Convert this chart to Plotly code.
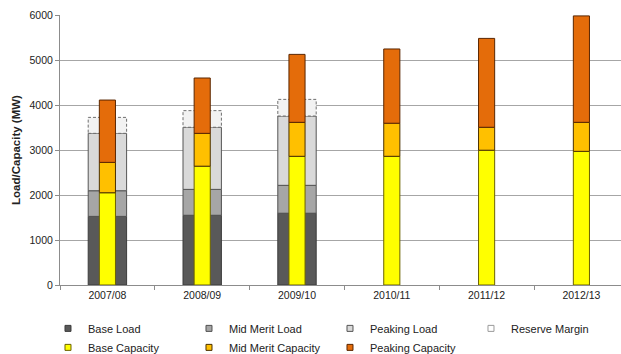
import plotly.graph_objects as go
import numpy as np

# Financial years on the category axis
years = ["2007/08", "2008/09", "2009/10", "2010/11", "2011/12", "2012/13"]

# Forecast load (MW) - only the first three years are shown
load_years = ["2007/08", "2008/09", "2009/10"]
base_load = [1525, 1550, 1595]
mid_merit_load = [570, 575, 620]
peaking_load = [1275, 1380, 1540]
reserve_margin = [355, 370, 370]

# Installed capacity (MW)
base_capacity = [2050, 2640, 2860, 2860, 2995, 2970]
mid_merit_capacity = [675, 730, 755, 735, 510, 645]
peaking_capacity = [1385, 1230, 1510, 1650, 1975, 2365]

FONT = "Liberation Sans, Arial, sans-serif"
LOAD_W = 0.405
CAP_W = 0.17

xi_load = np.array([years.index(y) for y in load_years], dtype=float)
xi_cap = np.arange(len(years), dtype=float)

fig = go.Figure()
legend_keys = []  # (name, fill, edge) in legend order


def stacked(fig, xs, segments, width, yaxis):
    base = np.zeros(len(xs))
    for name, vals, fill, edge in segments:
        vals = np.array(vals, dtype=float)
        fig.add_trace(go.Bar(
            x=xs, y=vals, base=base, width=width, name=name,
            marker=dict(color=fill, line=dict(color=edge, width=1)),
            yaxis=yaxis, hoverinfo="name+y", showlegend=False,
            legendgroup=name,
        ))
        base = base + vals
    return base


# Load stack (wide bars)
load_segments = [
    ("Base Load", base_load, "#595959", "#3c3c3c"),
    ("Mid Merit Load", mid_merit_load, "#A6A6A6", "#505050"),
    ("Peaking Load", peaking_load, "#D9D9D9", "#555555"),
]
load_top = stacked(fig, xi_load, load_segments, LOAD_W, "y")

# Reserve margin drawn as dashed outlined boxes on top of the load stack
rx, ry = [], []
for x, b, r in zip(xi_load, load_top, reserve_margin):
    x0, x1 = x - LOAD_W / 2, x + LOAD_W / 2
    rx += [x0, x1, x1, x0, x0, None]
    ry += [b, b, b + r, b + r, b, None]
fig.add_trace(go.Scatter(
    x=rx, y=ry, mode="lines", fill="toself", fillcolor="#F2F2F2",
    line=dict(color="#6e6e6e", width=1, dash="3px,2px"),
    name="Reserve Margin", yaxis="y", hoverinfo="skip", showlegend=False,
    legendgroup="Reserve Margin",
))

# Capacity stack (narrow bars) on an overlaying axis so it sits in front
cap_segments = [
    ("Base Capacity", base_capacity, "#FFFF00", "#6b6200"),
    ("Mid Merit Capacity", mid_merit_capacity, "#FFC000", "#4a3000"),
    ("Peaking Capacity", peaking_capacity, "#E46C0A", "#5a2600"),
]
stacked(fig, xi_cap, cap_segments, CAP_W, "y2")

# Legend keys: small square swatches
legend_keys = [(n, f, e) for n, _, f, e in load_segments]
legend_keys.append(("Reserve Margin", "#FFFFFF", "#9a9a9a"))
legend_keys += [(n, f, e) for n, _, f, e in cap_segments]
for name, fill, edge in legend_keys:
    fig.add_trace(go.Scatter(
        x=[None], y=[None], mode="markers", name=name, legendgroup=name,
        marker=dict(symbol="square", size=6, color=fill,
                    line=dict(color=edge, width=1)),
    ))

grid = "#A6A6A6"
fig.update_layout(
    width=621, height=354,
    margin=dict(l=60, r=0, t=15, b=69, autoexpand=False),
    paper_bgcolor="white", plot_bgcolor="white",
    barmode="overlay",
    font=dict(family=FONT, size=11, color="#222222"),
    showlegend=True,
    legend=dict(
        orientation="h", x=-0.0214, xanchor="left", y=-0.107, yanchor="top",
        entrywidth=96, entrywidthmode="pixels",
        font=dict(family=FONT, size=11, color="#222222"),
        traceorder="normal", itemwidth=30, tracegroupgap=0,
        bgcolor="rgba(0,0,0,0)",
    ),
    xaxis=dict(
        range=[-0.5, -0.5 + 561 / 94.8],
        tickmode="array", tickvals=list(xi_cap), ticktext=years,
        ticks="", showgrid=False, zeroline=False,
        showline=True, linecolor="#8c8c8c", linewidth=1,
        tickfont=dict(size=10.5, color="#222222"),
        minor=dict(tickmode="array",
                   tickvals=list(np.arange(len(years) + 1) - 0.5),
                   ticks="outside", ticklen=4, tickcolor="#8c8c8c",
                   showgrid=False),
    ),
    yaxis=dict(
        range=[0, 6000], tickmode="linear", tick0=0, dtick=1000,
        showgrid=True, gridcolor=grid, gridwidth=1, zeroline=False,
        showline=True, linecolor="#8c8c8c", linewidth=1,
        ticks="outside", ticklen=4, tickcolor="#8c8c8c",
        tickfont=dict(size=10.5, color="#222222"),
        title=dict(text="<b>Load/Capacity (MW)</b>", standoff=6,
                   font=dict(size=11.5, color="#222222")),
    ),
    yaxis2=dict(
        range=[0, 6000], overlaying="y", visible=False,
        showgrid=False, zeroline=False,
    ),
)

fig.write_html("out.html")
